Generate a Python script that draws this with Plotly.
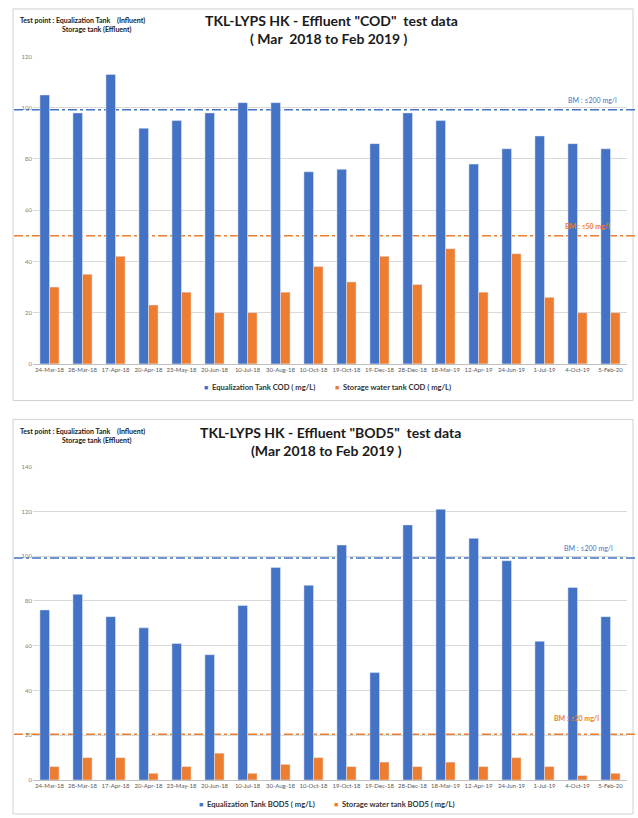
import plotly.graph_objects as go

dates = ["24-Mar-18", "28-Mar-18", "17-Apr-18", "20-Apr-18", "23-May-18", "20-Jun-18",
         "10-Jul-18", "30-Aug-18", "10-Oct-18", "19-Oct-18", "19-Dec-18", "28-Dec-18",
         "18-Mar-19", "12-Apr-19", "24-Jun-19", "1-Jul-19", "4-Oct-19", "5-Feb-20"]

cod_eq = [105, 98, 113, 92, 95, 98, 102, 102, 75, 76, 86, 98, 95, 78, 84, 89, 86, 84]
cod_st = [30, 35, 42, 23, 28, 20, 20, 28, 38, 32, 42, 31, 45, 28, 43, 26, 20, 20]

bod_eq = [76, 83, 73, 68, 61, 56, 78, 95, 87, 105, 48, 114, 121, 108, 98, 62, 86, 73]
bod_st = [6, 10, 10, 3, 6, 12, 3, 7, 10, 6, 8, 6, 8, 6, 10, 6, 2, 3]

cod_limit_eq = 99.2
cod_limit_st = 50
bod_limit_eq = 99.2
bod_limit_st = 20.4

names = ["Equalization Tank COD ( mg/L)", "Storage water tank COD ( mg/L)",
         "Equalization Tank BOD5 ( mg/L)", "Storage water tank BOD5 ( mg/L)"]

BLUE = "#4472C4"
ORANGE = "#ED7D31"
FONT = "Lato"
W, H = 638, 818

def px_y(p):
    return (H - p) / H

def px_x(p):
    return p / W

fig = go.Figure()

fig.add_trace(go.Bar(x=dates, y=cod_eq, name=names[0], marker_color=BLUE, xaxis="x", yaxis="y"))
fig.add_trace(go.Bar(x=dates, y=cod_st, name=names[1], marker_color=ORANGE, xaxis="x", yaxis="y"))
fig.add_trace(go.Bar(x=dates, y=bod_eq, name=names[2], marker_color=BLUE, xaxis="x2", yaxis="y2"))
fig.add_trace(go.Bar(x=dates, y=bod_st, name=names[3], marker_color=ORANGE, xaxis="x2", yaxis="y2"))

xdom = [px_x(33), px_x(627)]
axis_common = dict(showgrid=False, showline=True, linecolor="#bfbfbf", linewidth=1,
                   tickfont=dict(size=6, color="#595959", family=FONT), ticks="",
                   fixedrange=True)
yaxis_common = dict(showgrid=True, gridcolor="#d9d9d9", gridwidth=1, zeroline=False,
                    showline=False, tickfont=dict(size=6, color="#7f7f7f", family=FONT),
                    ticks="", fixedrange=True)

fig.update_layout(
    width=W, height=H,
    margin=dict(l=0, r=0, t=0, b=0),
    paper_bgcolor="white", plot_bgcolor="white",
    barmode="group", bargap=0.42, bargroupgap=0,
    font=dict(family=FONT, color="#404040"),
    xaxis=dict(domain=xdom, anchor="y", tickangle=0, **axis_common),
    yaxis=dict(domain=[px_y(363), px_y(53)], range=[0, 120], dtick=20, anchor="x", **yaxis_common),
    xaxis2=dict(domain=xdom, anchor="y2", tickangle=0, **axis_common),
    yaxis2=dict(domain=[px_y(782.7), px_y(466.7)], range=[0, 140], dtick=20, anchor="x2", **yaxis_common),
    showlegend=False,
)

shapes = []
# panel borders
shapes.append(dict(type="rect", xref="paper", yref="paper",
                   x0=px_x(13), x1=px_x(633), y0=px_y(400), y1=px_y(5),
                   line=dict(color="#d0d0d0", width=1), layer="below"))
shapes.append(dict(type="rect", xref="paper", yref="paper",
                   x0=px_x(13), x1=px_x(633), y0=px_y(817), y1=px_y(419),
                   line=dict(color="#d0d0d0", width=1), layer="below"))
# limit lines
for yref, val, col in [("y", cod_limit_eq, BLUE), ("y", cod_limit_st, ORANGE),
                       ("y2", bod_limit_eq, BLUE), ("y2", bod_limit_st, ORANGE)]:
    shapes.append(dict(type="line", xref="paper", yref=yref,
                       x0=px_x(14), x1=px_x(637), y0=val, y1=val,
                       line=dict(color=col, width=1.5, dash="dashdot"), layer="below"))
fig.update_layout(shapes=shapes)

ann = []
title_font = dict(size=14, color="#1a1a1a", family=FONT)
note_font = dict(size=7, color="#1a1a1a", family=FONT)
ann.append(dict(text="<b>TKL-LYPS HK - Effluent \"COD\"  test data</b>", x=px_x(331), y=px_y(17),
                xref="paper", yref="paper", showarrow=False, font=title_font, xanchor="center", yanchor="middle"))
ann.append(dict(text="<b>( Mar  2018 to Feb 2019 )</b>", x=px_x(329), y=px_y(35),
                xref="paper", yref="paper", showarrow=False, font=title_font, xanchor="center", yanchor="middle"))
ann.append(dict(text="<b>Test point : Equalization Tank    (Influent)</b>", x=px_x(18), y=px_y(17),
                xref="paper", yref="paper", showarrow=False, font=note_font, xanchor="left", yanchor="middle"))
ann.append(dict(text="<b>Storage tank (Effluent)</b>", x=px_x(60), y=px_y(26),
                xref="paper", yref="paper", showarrow=False, font=note_font, xanchor="left", yanchor="middle"))

ann.append(dict(text="<b>TKL-LYPS HK - Effluent \"BOD5\"  test data</b>", x=px_x(330), y=px_y(432),
                xref="paper", yref="paper", showarrow=False, font=title_font, xanchor="center", yanchor="middle"))
ann.append(dict(text="<b>(Mar 2018 to Feb 2019 )</b>", x=px_x(327), y=px_y(450),
                xref="paper", yref="paper", showarrow=False, font=title_font, xanchor="center", yanchor="middle"))
ann.append(dict(text="<b>Test point : Equalization Tank    (Influent)</b>", x=px_x(18), y=px_y(431),
                xref="paper", yref="paper", showarrow=False, font=note_font, xanchor="left", yanchor="middle"))
ann.append(dict(text="<b>Storage tank (Effluent)</b>", x=px_x(60), y=px_y(440),
                xref="paper", yref="paper", showarrow=False, font=note_font, xanchor="left", yanchor="middle"))

lab_font_b = dict(size=7, color=BLUE, family=FONT)
lab_font_o = dict(size=7, color=ORANGE, family=FONT)
ann.append(dict(text="BM : ≤200 mg/l", x=px_x(592), y=px_y(97), xref="paper", yref="paper",
                showarrow=False, font=lab_font_b, xanchor="center", yanchor="middle"))
ann.append(dict(text="<b>BM : ≤50 mg/l</b>", x=px_x(587), y=px_y(224), xref="paper", yref="paper",
                showarrow=False, font=lab_font_o, xanchor="center", yanchor="middle"))
ann.append(dict(text="BM : ≤200 mg/l", x=px_x(588), y=px_y(549), xref="paper", yref="paper",
                showarrow=False, font=lab_font_b, xanchor="center", yanchor="middle"))
ann.append(dict(text="<b>BM : ≤20 mg/l</b>", x=px_x(576), y=px_y(720), xref="paper", yref="paper",
                showarrow=False, font=lab_font_o, xanchor="center", yanchor="middle"))

# legends (drawn as text: coloured square + label)
leg_font = dict(size=7.6, color="#333333", family=FONT)
for name, col, xp, yp in [(names[0], BLUE, 202, 386), (names[1], ORANGE, 333, 386),
                          (names[2], BLUE, 197, 807), (names[3], ORANGE, 332, 807)]:
    ann.append(dict(text="■", x=px_x(xp), y=px_y(yp), xref="paper", yref="paper", showarrow=False,
                    font=dict(size=7, color=col, family=FONT), xanchor="left", yanchor="middle"))
    ann.append(dict(text=f"<b>{name}</b>", x=px_x(xp + 8), y=px_y(yp), xref="paper", yref="paper",
                    showarrow=False, font=leg_font, xanchor="left", yanchor="middle"))
fig.update_layout(annotations=ann)

fig.write_html("out.html", config={"displayModeBar": False},
               post_script="document.body.style.margin='0';document.body.style.overflow='hidden';")
